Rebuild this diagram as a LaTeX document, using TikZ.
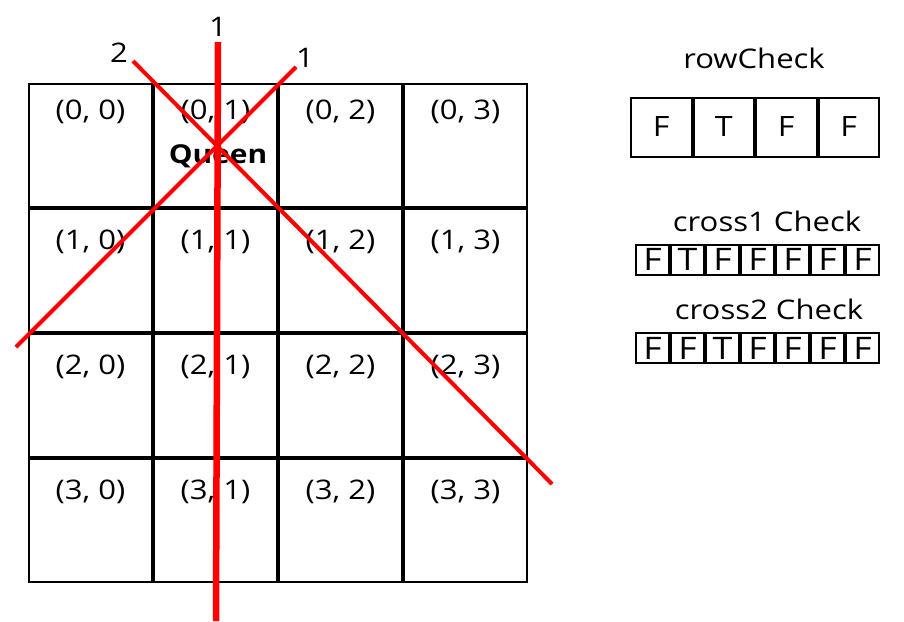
\documentclass[tikz,border=0pt]{standalone}
\usepackage{fontspec}
\setmainfont{Open Sans}[FakeStretch=1.15]
\usetikzlibrary{positioning}

\tikzset{
  cell/.style={draw, line width=2pt, minimum size=123pt, inner sep=0pt},
  coordlbl/.style={anchor=north, yshift=-17pt, inner sep=0pt, font=\fontsize{27}{30}\selectfont},
  coordlow/.style={coordlbl, yshift=-5pt},
  queen/.style={font=\fontsize{26}{30}\selectfont\bfseries, inner sep=0pt},
  hit/.style={draw=red, line width=4pt},
  hitthick/.style={draw=red, line width=6.5pt},
  hitlbl/.style={font=\fontsize{27}{30}\selectfont, inner sep=0pt},
  title/.style={font=\fontsize{27}{30}\selectfont, inner sep=0pt},
  rowbox/.style={draw, line width=2pt, minimum width=60.5pt, minimum height=59pt, inner sep=0pt, font=\fontsize{28}{30}\selectfont},
  crossbox/.style={draw, line width=2pt, minimum width=33pt, minimum height=30pt, inner sep=0pt, font=\fontsize{31}{32}\selectfont}
}

\begin{document}
\begin{tikzpicture}[x=1pt,y=1pt,node distance=125pt,on grid]
		\useasboundingbox (0,0) rectangle (904,-621);
		% board
		\node[cell,label={[coordlbl]north:{(0, 0)}}] (c00) at (90.5,-145.5) {};
		\node[cell,label={[coordlbl]north:{(0, 1)}}] (c01) [right=of c00] {};
		\node[cell,label={[coordlbl]north:{(0, 2)}}] (c02) [right=of c01] {};
		\node[cell,label={[coordlbl]north:{(0, 3)}}] (c03) [right=of c02] {};
		\node[cell,label={[coordlow]north:{(1, 0)}}] (c10) [below=of c00] {};
		\node[cell,label={[coordlow]north:{(1, 1)}}] (c11) [right=of c10] {};
		\node[cell,label={[coordlow]north:{(1, 2)}}] (c12) [right=of c11] {};
		\node[cell,label={[coordlow]north:{(1, 3)}}] (c13) [right=of c12] {};
		\node[cell,label={[coordlow]north:{(2, 0)}}] (c20) [below=of c10] {};
		\node[cell,label={[coordlow]north:{(2, 1)}}] (c21) [right=of c20] {};
		\node[cell,label={[coordlow]north:{(2, 2)}}] (c22) [right=of c21] {};
		\node[cell,label={[coordlow]north:{(2, 3)}}] (c23) [right=of c22] {};
		\node[cell,label={[coordlow]north:{(3, 0)}}] (c30) [below=of c20] {};
		\node[cell,label={[coordlow]north:{(3, 1)}}] (c31) [right=of c30] {};
		\node[cell,label={[coordlow]north:{(3, 2)}}] (c32) [right=of c31] {};
		\node[cell,label={[coordlow]north:{(3, 3)}}] (c33) [right=of c32] {};
		\node[queen] (q) at (218,-156) {Queen};
		% check arrays
		\node[title] (rowtitle) at (754,-58) {rowCheck};
		\node[rowbox] (r0) at (661.25,-127) {F};
		\node[rowbox] (r1) [right=62.5pt of r0] {T};
		\node[rowbox] (r2) [right=62.5pt of r1] {F};
		\node[rowbox] (r3) [right=62.5pt of r2] {F};
		\node[title] (c1title) at (767,-221) {cross1 Check};
		\node[crossbox] (a0) at (652.5,-259.5) {F};
		\node[crossbox] (a1) [right=35pt of a0] {T};
		\node[crossbox] (a2) [right=35pt of a1] {F};
		\node[crossbox] (a3) [right=35pt of a2] {F};
		\node[crossbox] (a4) [right=35pt of a3] {F};
		\node[crossbox] (a5) [right=35pt of a4] {F};
		\node[crossbox] (a6) [right=35pt of a5] {F};
		\node[title] (c2title) at (769,-309) {cross2 Check};
		\node[crossbox] (b0) at (652.5,-348) {F};
		\node[crossbox] (b1) [right=35pt of b0] {F};
		\node[crossbox] (b2) [right=35pt of b1] {T};
		\node[crossbox] (b3) [right=35pt of b2] {F};
		\node[crossbox] (b4) [right=35pt of b3] {F};
		\node[crossbox] (b5) [right=35pt of b4] {F};
		\node[crossbox] (b6) [right=35pt of b5] {F};
		% attack lines
		\coordinate (vtop) at (218,-42);
		\coordinate (vbot) at (216,-621);
		\coordinate (d1top) at (296,-67);
		\coordinate (d1bot) at (16,-347);
		\coordinate (d2top) at (133,-61);
		\coordinate (d2bot) at (552,-484);
		\draw[hitthick] (vtop) -- (vbot);
		\draw[hit] (d1top) -- (d1bot);
		\draw[hit] (d2top) -- (d2bot);
		\node[hitlbl] (vlbl) at (218,-27) {1};
		\node[hitlbl] (d1lbl) at (305,-58) {1};
		\node[hitlbl] (d2lbl) at (119,-53) {2};
\end{tikzpicture}
\end{document}
